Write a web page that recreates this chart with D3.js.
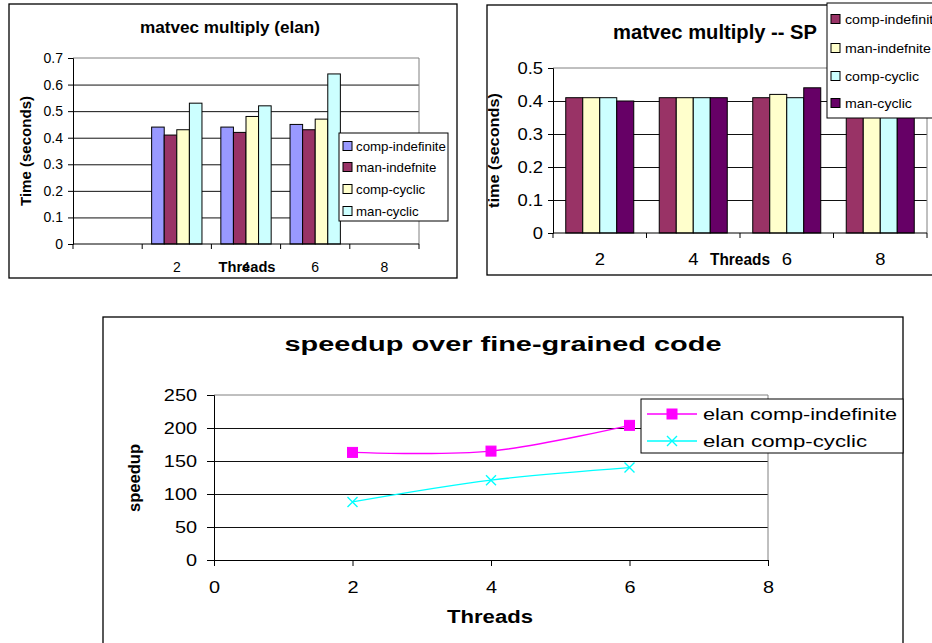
<!DOCTYPE html>
<html>
<head>
<meta charset="utf-8">
<script src="https://cdn.jsdelivr.net/npm/d3@7"></script>
<style>
  body { margin: 0; background: #fff; }
  svg text { font-family: Arial, "Liberation Sans", sans-serif; fill: #000; }
</style>
</head>
<body>
<svg id="chart" width="932" height="643"></svg>
<script>
// matvec multiply (elan)
var elanThreads = ["", "2", "4", "6", "8"];
var elanCompIndefinite = [null, 0.44, 0.44, 0.45, null];
var elanManIndefnite   = [null, 0.41, 0.42, 0.43, null];
var elanCompCyclic     = [null, 0.43, 0.48, 0.47, null];
var elanManCyclic      = [null, 0.53, 0.52, 0.64, null];
var elanTicks = [0, 0.1, 0.2, 0.3, 0.4, 0.5, 0.6, 0.7];

// matvec multiply -- SP
var spThreads = ["2", "4", "6", "8"];
var spCompIndefinite = [0.41, 0.41, 0.41, 0.41];
var spManIndefnite   = [0.41, 0.41, 0.42, 0.41];
var spCompCyclic     = [0.41, 0.41, 0.41, 0.41];
var spManCyclic      = [0.40, 0.41, 0.44, 0.41];
var spTicks = [0, 0.1, 0.2, 0.3, 0.4, 0.5];

// speedup over fine-grained code
var speedThreads = [2, 4, 6];
var speedCompIndefinite = [163, 165, 204];
var speedCompCyclic     = [88, 121, 140];
var speedYTicks = [0, 50, 100, 150, 200, 250];
var speedXTicks = [0, 2, 4, 6, 8];

var barSeries = ["comp-indefinite", "man-indefnite", "comp-cyclic", "man-cyclic"];
var lineSeries = ["elan comp-indefinite", "elan comp-cyclic"];

var svg = d3.select("#chart");

function fit(sel, len) {
  sel.attr("textLength", len).attr("lengthAdjust", "spacingAndGlyphs");
}
function widen(sel, k) {
  sel.each(function() {
    var n = this.getComputedTextLength();
    d3.select(this).attr("textLength", n * k).attr("lengthAdjust", "spacingAndGlyphs");
  });
}
function fmt1(d) { return d === 0 ? "0" : d3.format(".1f")(d); }

function barChart(o) {
  var g = svg.append("g");
  g.append("rect")
    .attr("x", o.frame[0]).attr("y", o.frame[1])
    .attr("width", o.frame[2] - o.frame[0]).attr("height", o.frame[3] - o.frame[1])
    .attr("fill", "#fff").attr("stroke", "#000").attr("stroke-width", 1.3);

  var x = d3.scaleBand().domain(o.cats).range([o.plot[0], o.plot[2]]);
  var y = d3.scaleLinear().domain([0, o.ticks[o.ticks.length - 1]]).range([o.plot[3], o.plot[1]]);
  var w = x.step() / 5.5;
  var xs = d3.scaleBand().domain(barSeries).range([0, 4 * w]);

  // gridlines
  g.append("g")
    .attr("transform", "translate(" + o.plot[0] + ",0)")
    .call(d3.axisLeft(y).tickValues(o.ticks.slice(1, -1)).tickSize(-(o.plot[2] - o.plot[0])).tickFormat(""))
    .call(function(s) { s.select(".domain").remove(); })
    .selectAll("line").attr("stroke", "#111");
  // plot border top / right
  g.append("path")
    .attr("d", "M" + o.plot[0] + "," + y(o.ticks[o.ticks.length - 1]) + "H" + o.plot[2] + "V" + y(0))
    .attr("fill", "none").attr("stroke", "#808080");

  // bars
  o.values.forEach(function(vals, si) {
    var pts = vals.map(function(v, i) { return { cat: o.cats[i], v: v }; })
      .filter(function(d) { return d.v != null; });
    g.selectAll(null).data(pts).enter().append("rect")
      .attr("x", function(d) { return x(d.cat) + (x.step() - 4 * w) / 2 + xs(barSeries[si]); })
      .attr("y", function(d) { return y(d.v); })
      .attr("width", w)
      .attr("height", function(d) { return y(0) - y(d.v); })
      .attr("fill", o.colors[si])
      .attr("stroke", "#000").attr("stroke-width", 1);
  });

  // y axis
  var ya = g.append("g")
    .attr("transform", "translate(" + o.plot[0] + ",0)")
    .call(d3.axisLeft(y).tickValues(o.ticks).tickSize(5).tickPadding(5).tickFormat(fmt1));
  ya.select(".domain").attr("stroke", "#000");
  ya.selectAll("text").style("font-size", o.tickFont + "px").call(widen, o.tickK);

  // x axis: labels at centers, ticks at category edges
  var xa = g.append("g")
    .attr("transform", "translate(0," + y(0) + ")")
    .call(d3.axisBottom(x).tickSize(0).tickPadding(o.xPad));
  xa.select(".domain").remove();
  xa.selectAll("text").style("font-size", o.tickFont + "px").call(widen, o.tickK);
  g.append("line")
    .attr("x1", o.plot[0]).attr("x2", o.plot[2]).attr("y1", y(0)).attr("y2", y(0))
    .attr("stroke", "#000");
  var edges = o.cats.map(function(c) { return x(c); }).concat([o.plot[2]]);
  g.selectAll(null).data(edges).enter().append("line")
    .attr("x1", function(d) { return d; }).attr("x2", function(d) { return d; })
    .attr("y1", y(0)).attr("y2", y(0) + 5)
    .attr("stroke", "#000");

  // titles
  g.append("text").attr("x", o.title.x).attr("y", o.title.y)
    .attr("text-anchor", "middle").style("font-size", o.title.size + "px").style("font-weight", "bold")
    .text(o.title.text).call(fit, o.title.len);
  g.append("text").attr("x", o.xTitle.x).attr("y", o.xTitle.y)
    .attr("text-anchor", "middle").style("font-size", o.xTitle.size + "px").style("font-weight", "bold")
    .text("Threads").call(fit, o.xTitle.len);
  g.append("text")
    .attr("transform", "translate(" + o.yTitle.x + "," + (o.plot[1] + o.plot[3]) / 2 + ") rotate(-90)")
    .attr("text-anchor", "middle").style("font-size", o.yTitle.size + "px").style("font-weight", "bold")
    .text(o.yTitle.text).call(fit, o.yTitle.len);

  // legend
  var L = o.legend;
  g.append("rect").attr("x", L.box[0]).attr("y", L.box[1])
    .attr("width", L.box[2] - L.box[0]).attr("height", L.box[3] - L.box[1])
    .attr("fill", "#fff").attr("stroke", "#000");
  var items = g.selectAll(null).data(barSeries).enter().append("g")
    .attr("transform", function(d, i) { return "translate(" + (L.box[0] + 4) + "," + L.rows[i] + ")"; });
  items.append("rect").attr("x", 0).attr("y", -4.5).attr("width", 9).attr("height", 9)
    .attr("fill", function(d, i) { return o.colors[i]; }).attr("stroke", "#000");
  items.append("text").attr("x", L.textX).attr("y", L.font * 0.36)
    .style("font-size", L.font + "px").text(function(d) { return d; })
    .call(widen, L.k);
}

barChart({
  frame: [9, 4, 457, 278],
  plot: [73, 58, 419, 244],
  cats: elanThreads,
  values: [elanCompIndefinite, elanManIndefnite, elanCompCyclic, elanManCyclic],
  colors: ["#9999FF", "#993366", "#FFFFCC", "#CCFFFF"],
  ticks: elanTicks,
  tickFont: 14, tickK: 1.0, xPad: 18,
  title: { text: "matvec multiply (elan)", x: 230, y: 33, size: 16, len: 180 },
  xTitle: { x: 247, y: 272, size: 14, len: 57 },
  yTitle: { text: "Time (seconds)", x: 31, size: 14, len: 110 },
  legend: { box: [339, 133, 448, 221], rows: [146, 167, 189, 211], textX: 13, font: 13, k: 1.02 }
});

barChart({
  frame: [487, 5, 945, 275],
  plot: [553, 68, 927, 233],
  cats: spThreads,
  values: [spCompIndefinite, spManIndefnite, spCompCyclic, spManCyclic],
  colors: ["#993366", "#FFFFCC", "#CCFFFF", "#660066"],
  ticks: spTicks,
  tickFont: 16, tickK: 1.15, xPad: 21,
  title: { text: "matvec multiply -- SP", x: 715, y: 39, size: 19.5, len: 204 },
  xTitle: { x: 740, y: 265, size: 16, len: 60 },
  yTitle: { text: "time (seconds)", x: 499, size: 15, len: 115 },
  legend: { box: [827, 3, 960, 118], rows: [19, 48, 76, 103], textX: 14, font: 13.5, k: 1.05 }
});

// speedup line chart
(function() {
  var g = svg.append("g");
  g.append("rect").attr("x", 103).attr("y", 317).attr("width", 800).attr("height", 340)
    .attr("fill", "#fff").attr("stroke", "#000").attr("stroke-width", 1.3);

  var x = d3.scaleLinear().domain([0, 8]).range([214, 768]);
  var y = d3.scaleLinear().domain([0, 250]).range([560, 395]);

  g.append("g").attr("transform", "translate(214,0)")
    .call(d3.axisLeft(y).tickValues(speedYTicks.slice(1, -1)).tickSize(-(768 - 214)).tickFormat(""))
    .call(function(s) { s.select(".domain").remove(); })
    .selectAll("line").attr("stroke", "#111");
  g.append("path").attr("d", "M214," + y(250) + "H768V" + y(0))
    .attr("fill", "none").attr("stroke", "#808080");

  var ya = g.append("g").attr("transform", "translate(214,0)")
    .call(d3.axisLeft(y).tickValues(speedYTicks).tickSize(7).tickPadding(10));
  ya.selectAll("text").style("font-size", "17px").call(widen, 1.17);
  var xa = g.append("g").attr("transform", "translate(0,560)")
    .call(d3.axisBottom(x).tickValues(speedXTicks).tickSize(6).tickPadding(15).tickSizeOuter(6));
  xa.selectAll("text").style("font-size", "17px").call(widen, 1.17);

  var series = [
    { vals: speedCompIndefinite, color: "#FF00FF", mark: "square" },
    { vals: speedCompCyclic, color: "#00FFFF", mark: "x" }
  ];
  var line = d3.line().curve(d3.curveCardinal)
    .x(function(d) { return x(d[0]); }).y(function(d) { return y(d[1]); });

  function marker(sel, kind, color) {
    if (kind === "square") {
      sel.append("rect").attr("x", -5).attr("y", -5).attr("width", 10).attr("height", 10)
        .attr("fill", color).attr("stroke", color);
    } else {
      sel.append("path").attr("d", "M-5,-5L5,5M-5,5L5,-5")
        .attr("stroke", color).attr("stroke-width", 1.4).attr("fill", "none");
    }
  }

  series.forEach(function(s) {
    var pts = speedThreads.map(function(t, i) { return [t, s.vals[i]]; });
    g.append("path").datum(pts).attr("d", line)
      .attr("fill", "none").attr("stroke", s.color).attr("stroke-width", 1.4);
    g.selectAll(null).data(pts).enter().append("g")
      .attr("transform", function(d) { return "translate(" + x(d[0]) + "," + y(d[1]) + ")"; })
      .each(function() { marker(d3.select(this), s.mark, s.color); });
  });

  g.append("text").attr("x", 503).attr("y", 351).attr("text-anchor", "middle")
    .style("font-size", "20px").style("font-weight", "bold")
    .text("speedup over fine-grained code").call(fit, 437);
  g.append("text").attr("x", 490).attr("y", 623).attr("text-anchor", "middle")
    .style("font-size", "18px").style("font-weight", "bold")
    .text("Threads").call(fit, 86);
  g.append("text").attr("transform", "translate(140,478) rotate(-90)").attr("text-anchor", "middle")
    .style("font-size", "16px").style("font-weight", "bold")
    .text("speedup").call(fit, 68);

  // legend
  g.append("rect").attr("x", 641).attr("y", 399).attr("width", 262).attr("height", 54)
    .attr("fill", "#fff").attr("stroke", "#000");
  var rows = [414, 441];
  var lens = [194, 164];
  var items = g.selectAll(null).data(series).enter().append("g")
    .attr("transform", function(d, i) { return "translate(647," + rows[i] + ")"; });
  items.append("line").attr("x1", 0).attr("x2", 50)
    .attr("stroke", function(d) { return d.color; }).attr("stroke-width", 1.4);
  items.each(function(d) {
    var m = d3.select(this).append("g").attr("transform", "translate(25,0)");
    marker(m, d.mark, d.color);
  });
  items.append("text").attr("x", 56).attr("y", 6)
    .style("font-size", "17px").text(function(d, i) { return lineSeries[i]; })
    .each(function(d, i) { d3.select(this).call(fit, lens[i]); });
})();
</script>
</body>
</html>
